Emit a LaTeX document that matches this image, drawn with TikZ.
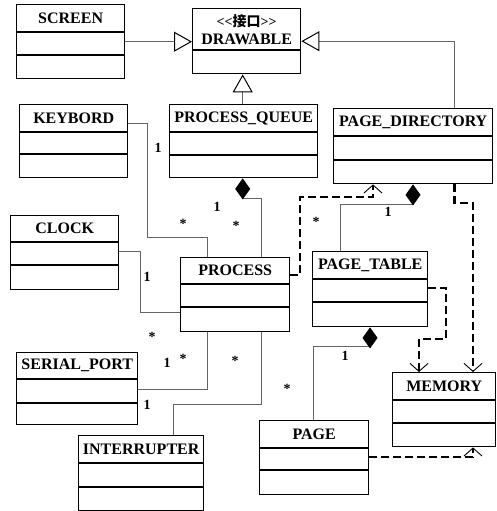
\documentclass[tikz,border=0pt]{standalone}
\usepackage{fontspec}
\setmainfont{Liberation Serif}
\newfontfamily\cjk{Noto Sans CJK SC}
\usetikzlibrary{calc,arrows.meta}
\tikzset{
  classbox/.style={draw=black,line width=1.4pt,rectangle,inner sep=0pt,anchor=north west},
  divline/.style={draw=black,line width=1.4pt},
  titletext/.style={font=\bfseries\fontsize{16}{16}\selectfont,inner sep=0pt},
  assoc/.style={draw={rgb,255:red,100;green,100;blue,100},line width=0.9pt},
  gen/.style={assoc,-{Triangle[open,fill=white,length=18pt,width=20pt,line width=1pt,color=black]}},
  comp/.style={assoc,{Diamond[fill=black,color=black,length=21pt,width=15pt]}-},
  dep/.style={draw=black,line width=2.6pt,dash pattern=on 8pt off 4pt,-{Straight Barb[length=8pt,width=18pt,line width=0.9pt]}},
  mult/.style={font=\bfseries\fontsize{14}{14}\selectfont,inner sep=0pt},
}
\newcommand\umlclass[8]{%
  \node[classbox,minimum width=#4pt,minimum height=#5pt] (#1) at (#2,#3) {};
  \draw[divline] ($(#1.north west)+(0,#6)$) -- ($(#1.north east)+(0,#6)$);
  \draw[divline] ($(#1.north west)+(0,#7)$) -- ($(#1.north east)+(0,#7)$);
  \node[titletext] (#1-title) at ($(#1.north)+(0,#6/2)$) {#8};
}
\begin{document}
\begin{tikzpicture}[x=1pt,y=-1pt]
\useasboundingbox[fill=white] (0,0) rectangle (496,511);
% classes
\umlclass{screen}{16}{4}{108}{74}{28}{51}{SCREEN}
\node[classbox,minimum width=108pt,minimum height=65pt] (drawable) at (192,8) {};
\draw[divline] ($(drawable.north west)+(0,42)$) -- ($(drawable.north east)+(0,42)$);
\node[titletext,font=\bfseries\fontsize{14}{14}\selectfont] (drawable-st) at ($(drawable.north)+(0,13)$) {<{}<{\cjk\bfseries 接口}>{}>};
\node[titletext] (drawable-title) at ($(drawable.north)+(0,31)$) {DRAWABLE};
\umlclass{keybord}{19}{104}{108}{73}{28}{50}{KEYBORD}
\umlclass{pqueue}{169}{104}{148}{73}{28}{51}{PROCESS\_QUEUE}
\umlclass{pdir}{333}{108}{159}{75}{28}{52}{PAGE\_DIRECTORY}
\umlclass{clock}{10}{215}{108}{74}{27}{50}{CLOCK}
\umlclass{process}{180}{257}{109}{74}{27}{50}{PROCESS}
\umlclass{serial}{16}{352}{121}{72}{27}{51}{SERIAL\_PORT}
\umlclass{interrupter}{78}{435}{125}{75}{28}{52}{INTERRUPTER}
\umlclass{ptable}{312}{251}{115}{75}{28}{51}{PAGE\_TABLE}
\umlclass{memory}{392}{372}{103}{74}{28}{51}{MEMORY}
\umlclass{page}{259}{420}{109}{74}{28}{50}{PAGE}
% generalizations
\draw[gen] (screen.east) -- (drawable.west |- screen.east);
\draw[gen] ([xshift=-1pt]pqueue.north) -- ([xshift=-1pt]pqueue.north |- drawable.south);
\draw[gen] ([xshift=-39pt]pdir.north east) |- (drawable.east);
% associations
\draw[assoc] ([yshift=-19pt]keybord.north east) -| (147,237) -| ([xshift=27pt]process.north west);
\draw[assoc] ([yshift=-36pt]clock.north east) -| (140,312) -- ([yshift=-55pt]process.north west);
\draw[assoc] ([yshift=-37pt]serial.north east) -| ([xshift=27pt]process.south west);
\draw[assoc] ([xshift=95pt]interrupter.north west) |- (261,404) -- ([xshift=81pt]process.south west);
% compositions
\draw[comp] ([xshift=-1pt]pqueue.south) |- (261,198) -- ([xshift=81pt]process.north west);
\draw[comp] ([xshift=80pt]pdir.south west) |- (340,204) -- ([xshift=28pt]ptable.north west);
\draw[comp] ([xshift=58pt]ptable.south west) |- (313,346) -- ([xshift=54pt]page.north west);
% dependencies
\draw[dep] ([yshift=-18pt]process.north east) -| (300,197) -| ([xshift=40pt]pdir.south west);
\draw[dep] ([xshift=-39pt]pdir.south east) |- (473,203) -- ([xshift=81pt]memory.north west);
\draw[dep] ([yshift=-37pt]ptable.north east) -| (446,339) -| ([xshift=27pt]memory.north west);
\draw[dep] ([yshift=-37pt]page.north east) -| ([xshift=81pt]memory.south west);
% multiplicities
\node[mult] (m1) at (158,148) {1};
\node[mult] (m2) at (183,224) {*};
\node[mult] (m3) at (217,207) {1};
\node[mult] (m4) at (236,226) {*};
\node[mult] (m5) at (147,277) {1};
\node[mult] (m6) at (152,337) {*};
\node[mult] (m7) at (167,363) {1};
\node[mult] (m8) at (183,359) {*};
\node[mult] (m9) at (235,361) {*};
\node[mult] (m10) at (147,405) {1};
\node[mult] (m11) at (316,222) {*};
\node[mult] (m12) at (388,212) {1};
\node[mult] (m13) at (345,356) {1};
\node[mult] (m14) at (287,389) {*};
\end{tikzpicture}
\end{document}
